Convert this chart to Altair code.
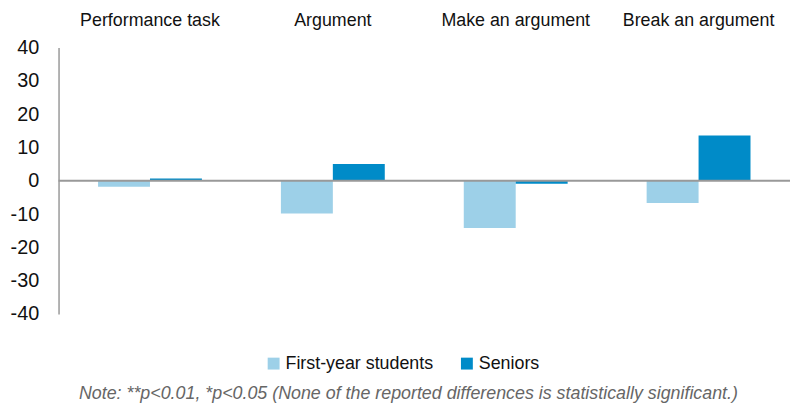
import altair as alt
import pandas as pd

categories = ["Performance task", "Argument", "Make an argument", "Break an argument"]
groups = ["First-year students", "Seniors"]
first_year = [-1.8, -9.8, -14.2, -6.7]
seniors = [0.7, 5.0, -0.9, 13.6]
y_ticks = [-40, -30, -20, -10, 0, 10, 20, 30, 40]
colors = ["#9DD0E8", "#008BC8"]
note = "Note: **p<0.01, *p<0.05 (None of the reported differences is statistically significant.)"

rows = []
for c, a, b in zip(categories, first_year, seniors):
    rows.append({"category": c, "group": groups[0], "value": a})
    rows.append({"category": c, "group": groups[1], "value": b})
df = pd.DataFrame(rows)

FONT = "Liberation Sans"

y_axis = alt.Axis(
    values=y_ticks, title=None, grid=False, ticks=False, tickSize=0,
    domainColor="#999999", domainWidth=1.5, labelFontSize=20, labelPadding=20,
    labelExpr="'' + datum.value", labelFont=FONT, labelColor="#111",
    labelOverlap=False,
)
y_scale = alt.Scale(domain=[-40, 40], nice=False, zero=False)

bars = alt.Chart(df).mark_bar().encode(
    x=alt.X(
        "category:N",
        sort=categories,
        scale=alt.Scale(paddingInner=0.432, paddingOuter=0.216),
        axis=alt.Axis(
            orient="top", title=None, labelAngle=0, ticks=False, tickSize=0,
            domain=False, labelPadding=18, labelFontSize=18, labelColor="#111",
            labelFont=FONT,
        ),
    ),
    xOffset=alt.XOffset("group:N", sort=groups, scale=alt.Scale(paddingInner=0, paddingOuter=0)),
    y=alt.Y("value:Q", scale=y_scale, axis=y_axis),
    color=alt.Color(
        "group:N",
        sort=groups,
        scale=alt.Scale(domain=groups, range=colors),
        legend=alt.Legend(
            title=None, orient="none", direction="horizontal", legendX=208, legendY=310,
            symbolType="square", symbolSize=144, symbolStrokeWidth=0,
            labelFontSize=18, labelFont=FONT, labelColor="#111",
            columnPadding=24, labelOffset=3,
        ),
    ),
)

zero = alt.Chart(pd.DataFrame({"value": [0]})).mark_rule(color="#999999", strokeWidth=2).encode(
    y=alt.Y("value:Q", scale=y_scale, axis=y_axis)
)

chart = (
    alt.layer(bars, zero)
    .properties(
        width=738,
        height=269,
        autosize=alt.AutoSizeParams(type="none"),
        padding={"left": 51, "top": 38, "right": 0, "bottom": 91},
        title=alt.TitleParams(
            note, orient="bottom", anchor="middle", fontSize=18, fontStyle="italic",
            fontWeight="normal", font=FONT, color="#666666", offset=13, dx=-16,
        ),
    )
    .configure_view(stroke=None)
)

chart.save("out.html", embed_options={"renderer": "svg", "actions": False})
